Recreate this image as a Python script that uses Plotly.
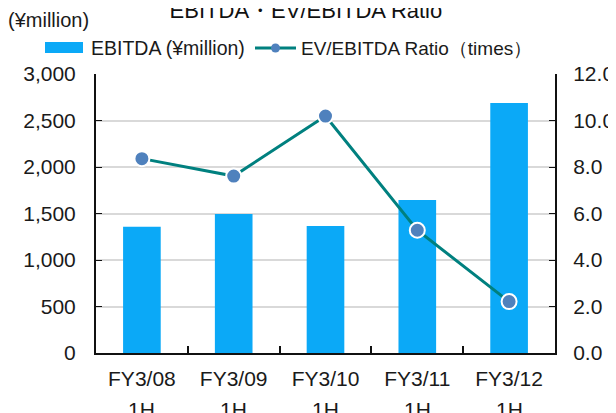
import plotly.graph_objects as go

# data
periods = ["FY3/08", "FY3/09", "FY3/10", "FY3/11", "FY3/12"]
half = "1H"
ebitda = [1358, 1495, 1366, 1645, 2688]
ev_ratio = [8.36, 7.61, 10.19, 5.28, 2.21]

bar_name = "EBITDA (¥million)"
line_name = "EV/EBITDA Ratio（times）"

font_main = "Arial, Liberation Sans, sans-serif"
bar_col = "#0BA9F7"
line_col = "#00807F"
dot_col = "#4F81BD"

# the page body adds 8px, so lay out 8px up/left of the target screen positions
OFF = 8
# plot area on screen: x 96..555, y 74..353
def px(x):
    return (x - 96) / 459

def py(y):
    return (353 - y) / 279

fig = go.Figure()
fig.add_trace(go.Bar(
    x=periods, y=ebitda, name=bar_name,
    marker=dict(color=bar_col, line=dict(width=0)),
    width=0.41,
))
fig.add_trace(go.Scatter(
    x=periods, y=ev_ratio, name=line_name,
    yaxis="y2", mode="lines+markers",
    line=dict(color=line_col, width=3),
    marker=dict(color=dot_col, size=15, line=dict(color="white", width=2)),
))

# hand made legend so the bar swatch is a wide block like the original
leg_y = 48
shapes = [
    dict(type="rect", xref="paper", yref="paper", x0=px(45), x1=px(83),
         y0=py(53), y1=py(42), fillcolor=bar_col, line=dict(width=0)),
    dict(type="line", xref="paper", yref="paper", x0=px(255), x1=px(296),
         y0=py(leg_y), y1=py(leg_y), line=dict(color=line_col, width=3)),
    dict(type="circle", xref="paper", yref="paper", x0=px(271), x1=px(280),
         y0=py(leg_y + 4.5), y1=py(leg_y - 4.5), fillcolor=dot_col, line=dict(width=0)),
]
annotations = [
    dict(text=bar_name, x=px(89), y=py(leg_y), xref="paper", xanchor="left",
         font=dict(size=19.5)),
    dict(text=line_name, x=px(299), y=py(leg_y), xref="paper", xanchor="left",
         font=dict(size=19)),
    dict(text="(¥million)", x=px(6), y=py(20), xref="paper", xanchor="left",
         font=dict(size=20)),
]
# second line of each period label sits well below the first, as in the original
for p in periods:
    annotations.append(dict(text=half, x=p, xref="x", y=py(409), xanchor="center",
                            font=dict(size=21)))
for a in annotations:
    a.update(yref="paper", yanchor="middle", showarrow=False)

fig.update_layout(
    width=616, height=413,
    margin=dict(l=96 - OFF, r=616 - 555 + OFF, t=74 - OFF, b=413 - 353 + OFF),
    paper_bgcolor="white", plot_bgcolor="white",
    font=dict(family=font_main, size=21, color="#1a1a1a"),
    title=dict(text="EBITDA・EV/EBITDA Ratio", x=px(318), xanchor="center",
               y=1 - (10 - OFF) / 413, yanchor="middle", font=dict(size=22, color="#111")),
    showlegend=False,
    bargap=0.59,
    xaxis=dict(
        type="category", showline=True, linecolor="#111", linewidth=2,
        ticks="inside", tickson="boundaries", ticklen=7, tickcolor="#111",
        tickwidth=1.5, showgrid=False, ticklabelstandoff=6, automargin=False,
    ),
    yaxis=dict(
        range=[0, 3000], dtick=500, tickformat=",",
        showline=True, linecolor="#111", linewidth=2,
        ticks="inside", ticklen=6, tickcolor="#111",
        showgrid=True, gridcolor="#d9d9d9", gridwidth=1.5,
        zeroline=False, ticklabelstandoff=14, automargin=False,
    ),
    yaxis2=dict(
        range=[0, 12], dtick=2, tickformat=".1f", overlaying="y", side="right",
        showline=True, linecolor="#111", linewidth=2,
        ticks="inside", ticklen=6, tickcolor="#111",
        showgrid=False, zeroline=False, ticklabelstandoff=12, automargin=False,
    ),
    shapes=shapes,
    annotations=annotations,
)

fig.write_html("out.html")
